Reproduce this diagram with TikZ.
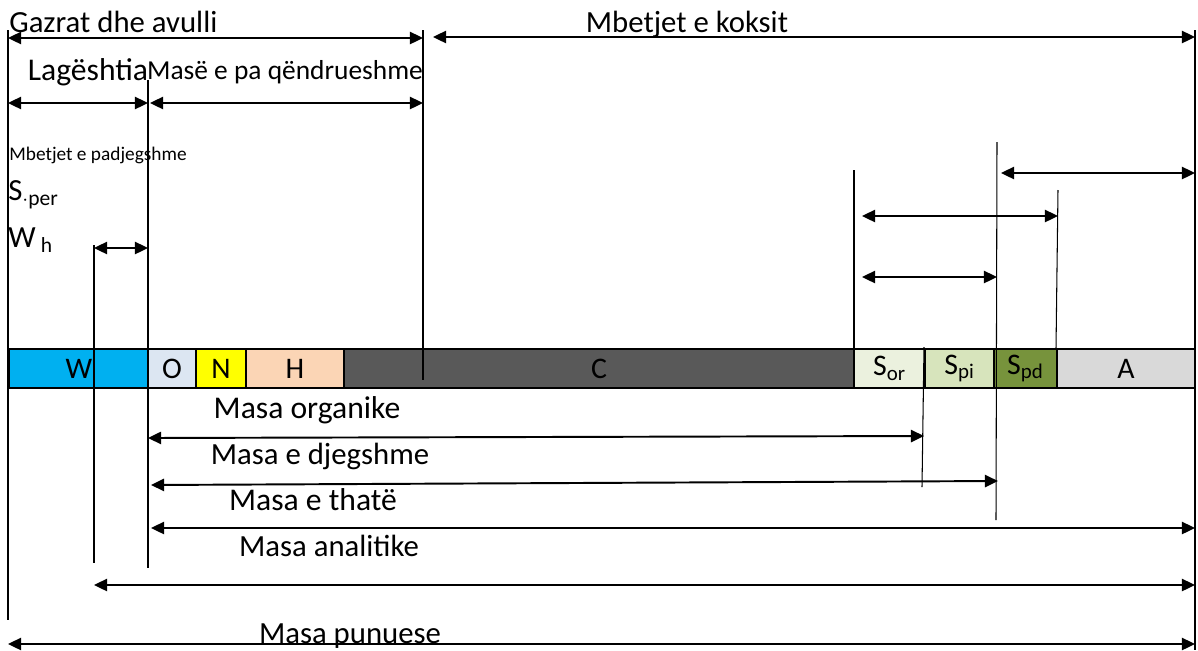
\documentclass[tikz,border=0pt]{standalone}
\usepackage{fontspec}
\setmainfont{Carlito}
\usetikzlibrary{arrows.meta,positioning}

\definecolor{cW}{HTML}{00B0F0}
\definecolor{cO}{HTML}{DCE6F2}
\definecolor{cN}{HTML}{FFFF00}
\definecolor{cH}{HTML}{FBD5B5}
\definecolor{cC}{HTML}{595959}
\definecolor{cSor}{HTML}{EBF1DE}
\definecolor{cSpi}{HTML}{D7E4BC}
\definecolor{cSpd}{HTML}{77933C}
\definecolor{cA}{HTML}{D9D9D9}

\begin{document}
\begin{tikzpicture}[x=0.02cm,y=-0.02cm,
  >={Triangle[length=7.5pt,width=7pt]},
  dim/.style={<->,line width=1.1pt},
  lbl/.style={font=\fontsize{17.5}{20}\selectfont,inner sep=0pt},
  seg/.style={draw,line width=0.9pt,minimum height=0.78cm,inner sep=0pt,
    font=\fontsize{17}{20}\selectfont}]
\useasboundingbox (0,0) rectangle (1198,650);

% the bar
\node[seg,fill=cW,minimum width=2.8cm] (W) at (79,368.5) {W};
\node[seg,fill=cO,minimum width=0.96cm] (O) at (172,368.5) {O};
\node[seg,fill=cN,minimum width=1cm] (N) at (221,368.5) {N};
\node[seg,fill=cH,minimum width=1.96cm] (H) at (295,368.5) {H};
\node[seg,fill=cC,minimum width=10.2cm] (C) at (599,368.5) {C};
\node[seg,fill=cSor,minimum width=1.42cm] (Sor) at (889.5,368.5) {\raisebox{-1pt}{S\textsubscript{or}}};
\node[seg,fill=cSpi,minimum width=1.38cm] (Spi) at (959.5,368.5) {\raisebox{-1pt}{S\textsubscript{pi}}};
\node[seg,fill=cSpd,minimum width=1.26cm] (Spd) at (1025.5,368.5) {\raisebox{-1pt}{S\textsubscript{pd}}};
\node[seg,fill=cA,minimum width=2.76cm] (A) at (1126,368.5) {A};

% vertical lines
\draw[line width=0.6pt] (8,30) -- (8,620);
\draw[line width=0.6pt] (94,245) -- (94,563);
\draw[line width=0.6pt] (148,80) -- (148,568);
\draw[line width=0.6pt] (423,30) -- (423,380);
\draw[line width=0.6pt] (854,170) -- (854,349);
\draw[line width=0.6pt] (924,347) -- (922,487);
\draw[line width=0.6pt] (997,142) -- (996,520);
\draw[line width=0.6pt] (1058,190) -- (1056,349);
\draw[line width=0.6pt] (1195,30) -- (1195,650);

% upper arrows
\node[lbl,anchor=west] (gas) at (9,22) {Gazrat dhe avulli};
\draw[dim] (8,38) -- (423,38);
\node[lbl] (koks) at (687,24) {Mbetjet e koksit};
\draw[dim] (433,37) -- (1195,37);
\node[lbl,font=\fontsize{18}{20}\selectfont] (lag) at (88,72) {Lagështia};
\draw[dim] (8,103) -- (148,103);
\node[lbl,font=\fontsize{15.6}{18}\selectfont] (pqend) at (285,72) {Masë e pa qëndrueshme};
\draw[dim] (150,103) -- (423,103);
\node[anchor=west,inner sep=0pt,font=\fontsize{11}{13}\selectfont] (padj) at (9,155) {Mbetjet e padjegshme};
\node[lbl,anchor=west] (Sper) at (8,195) {S\textsubscript{$\cdot$per}};
\node[lbl,anchor=west] (Wh) at (8,240) {W\,\textsubscript{h}};
\draw[dim] (94,248) -- (148,248);
\draw[dim] (1001,173) -- (1195,173);
\draw[dim] (862,216) -- (1058,216);
\draw[dim] (862,277) -- (997,277);

% lower arrows
\node[lbl,font=\fontsize{18}{20}\selectfont] (org) at (307,410) {Masa organike};
\draw[dim] (148,438) -- (924,436);
\node[lbl] (djeg) at (320,456) {Masa e djegshme};
\draw[dim] (151,485) -- (998,481);
\node[lbl,font=\fontsize{18}{20}\selectfont] (that) at (313,500) {Masa e thatë};
\draw[dim] (151,528) -- (1195,528);
\node[lbl] (anal) at (329,546) {Masa analitike};
\draw[dim] (94,585) -- (1195,585);
\node[lbl] (pun) at (350,636) {Masa punuese};
\draw[dim] (8,644) -- (1195,644);
\end{tikzpicture}
\end{document}
